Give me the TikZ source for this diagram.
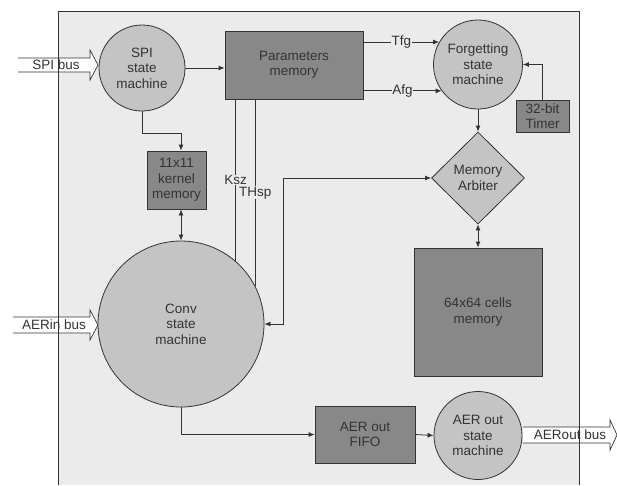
\documentclass[tikz,border=0pt]{standalone}
\usepackage{fontspec}
\setmainfont{Liberation Sans}
\usetikzlibrary{arrows.meta,shapes.geometric,calc}
\definecolor{panel}{HTML}{EBEBEB}
\definecolor{lightfill}{HTML}{C4C4C4}
\definecolor{darkfill}{HTML}{888888}
\definecolor{ink}{HTML}{333333}

\begin{document}
\begin{tikzpicture}[x=1pt,y=-1pt,>={Latex[length=6pt,width=5pt]},
    font=\fontsize{13.5}{15.5}\selectfont,line width=0.8pt,color=ink,
    fsm/.style={circle,draw,fill=lightfill,inner sep=0pt,align=center},
    block/.style={rectangle,draw,fill=darkfill,inner sep=0pt,align=center},
    lbl/.style={fill=panel,inner sep=0.5pt},
    bus/.style={draw,fill=white,line width=0.7pt}]
  \useasboundingbox (0,0) rectangle (617,485);
  \fill[panel] (58,11) rectangle (579,485);
  % external buses
  \filldraw[bus] (18,58) -- (90,58) -- (90,50) -- (98,65) -- (90,80) -- (90,72) -- (18,72);
  \node (spibus) at (56,65) {SPI bus};
  \filldraw[bus] (13,317) -- (90,317) -- (90,310) -- (98,325) -- (90,340) -- (90,333) -- (13,333);
  \node (aerinbus) at (54,325) {AERin bus};
  \filldraw[bus] (523,427) -- (610,427) -- (610,420) -- (617,435) -- (610,450) -- (610,443) -- (523,443);
  \node (aeroutbus) at (570,435) {AERout bus};
  \draw (58,485) -- (58,11) -- (579,11) -- (579,485);
  % blocks
  \node[fsm,minimum size=86pt] (spi) at (142,68) {SPI\\state\\machine};
  \node[block,minimum width=138pt,minimum height=68pt] (params) at (294,65) {Parameters\\memory};
  \node[fsm,minimum size=89pt] (forget) at (478,64.5) {Forgetting\\state\\machine};
  \node[block,minimum width=53pt,minimum height=32pt] (timer) at (542.5,116) {32-bit\\Timer};
  \node[diamond,draw,fill=lightfill,inner sep=0pt,align=center,
        minimum width=93pt,minimum height=92pt] (arbiter) at (478,178) {Memory\\Arbiter};
  \node[block,minimum width=128pt,minimum height=128pt] (mem) at (478,312) {64x64 cells\\memory};
  \node[block,minimum width=59pt,minimum height=58pt] (kernel) at (176.5,180) {11x11\\kernel\\memory};
  \node[fsm,minimum size=166pt] (conv) at (181,324) {Conv\\state\\machine};
  \node[block,minimum width=100pt,minimum height=57pt] (fifo) at (365,434.5) {AER out\\FIFO};
  \node[fsm,minimum size=88pt] (aerout) at (478,435.5) {AER out\\state\\machine};
  % connections
  \draw[->] (spi.east) -- (spi.east -| params.west);
  \draw[->] (forget.150 -| params.east) -- node[lbl] (tfg) {Tfg} (forget.150);
  \draw[->] (forget.216 -| params.east) -- node[lbl] (afg) {Afg} (forget.216);
  \draw[->] (timer.north) |- (forget.east);
  \draw[->] (forget.south) -- (arbiter.north);
  \draw[<->] (arbiter.south) -- (mem.north);
  \coordinate (jog) at (283,178);
  \draw[<->] (conv.east) -| (jog) -- (arbiter.west);
  \draw (conv.49 |- params.south) -- node[lbl] (ksz) {Ksz} (conv.49);
  \draw (conv.27 |- params.south) -- node[lbl] (thsp) {THsp} (conv.27);
  \draw[->] (spi.south) -- ++(0,22) -| (kernel.north -| conv.north);
  \draw[<->] (kernel.south -| conv.north) -- (conv.north);
  \draw[->] (conv.south) |- (fifo.west);
  \draw[->] (fifo.east) -- (aerout.west);
\end{tikzpicture}
\end{document}
